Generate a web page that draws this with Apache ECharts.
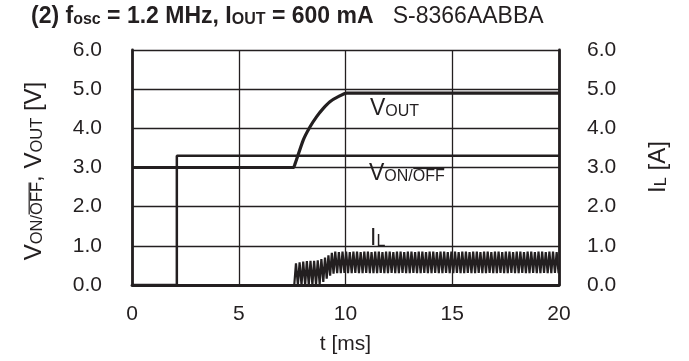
<!DOCTYPE html>
<html><head><meta charset="utf-8">
<script src="https://cdn.jsdelivr.net/npm/echarts@6/dist/echarts.min.js"></script>
<style>html,body{margin:0;padding:0;background:#fff}#c{width:689px;height:361px}</style>
</head><body><div id="c"></div>
<script>
// ---- data ----
const xTickLabels = ['0', '5', '10', '15', '20'];
const yTickLabels = ['0.0', '1.0', '2.0', '3.0', '4.0', '5.0', '6.0'];
const vonTime = [0, 2.1, 2.1, 20];
const vonVolt = [0, 0, 3.3, 3.3];
const voutTime = [0, 7.55, 7.63, 8.02, 8.34, 8.65, 8.96, 9.27, 9.66, 10.06, 20];
const voutVolt = [3.0, 3.0, 3.08, 3.70, 4.04, 4.30, 4.51, 4.68, 4.81, 4.9, 4.9];
const ilWave = [
[7.60,0],[7.68,0.55],[7.77,0],[7.85,0.58],[7.94,0],[8.02,0.60],[8.11,0],[8.19,0.61],[8.28,0],[8.36,0.62],
[8.45,0],[8.53,0.62],[8.62,0],[8.70,0.63],[8.79,0.02],[8.87,0.66],[8.96,0.08],[9.04,0.70],[9.12,0.16],[9.20,0.76],
[9.28,0.24],[9.36,0.82],[9.44,0.29],[9.52,0.85],[9.61,0.30],[9.69,0.84],[9.78,0.30],[9.86,0.85],[9.95,0.31],[10.03,0.85],
[10.12,0.30],[10.20,0.84],[10.29,0.30],[10.37,0.85],[10.46,0.31],[10.54,0.85],[10.63,0.30],[10.71,0.84],[10.80,0.30],[10.88,0.85],
[10.97,0.31],[11.05,0.85],[11.14,0.30],[11.22,0.84],[11.31,0.30],[11.39,0.85],[11.48,0.30],[11.56,0.85],[11.65,0.31],[11.73,0.84],
[11.82,0.30],[11.90,0.85],[11.99,0.30],[12.07,0.85],[12.16,0.31],[12.24,0.84],[12.33,0.30],[12.41,0.85],[12.50,0.30],[12.58,0.85],
[12.67,0.31],[12.75,0.84],[12.84,0.30],[12.92,0.85],[13.01,0.30],[13.09,0.85],[13.18,0.31],[13.26,0.84],[13.35,0.30],[13.43,0.85],
[13.52,0.30],[13.60,0.85],[13.69,0.31],[13.77,0.84],[13.86,0.30],[13.94,0.85],[14.03,0.30],[14.11,0.85],[14.20,0.31],[14.28,0.84],
[14.37,0.30],[14.45,0.85],[14.54,0.30],[14.62,0.85],[14.71,0.31],[14.79,0.84],[14.88,0.30],[14.96,0.85],[15.05,0.30],[15.13,0.85],
[15.22,0.31],[15.30,0.84],[15.39,0.30],[15.47,0.85],[15.56,0.30],[15.64,0.85],[15.73,0.31],[15.81,0.84],[15.90,0.30],[15.98,0.85],
[16.07,0.30],[16.15,0.85],[16.24,0.31],[16.32,0.84],[16.41,0.30],[16.49,0.85],[16.58,0.30],[16.66,0.85],[16.75,0.31],[16.83,0.84],
[16.92,0.30],[17.00,0.85],[17.09,0.30],[17.17,0.85],[17.26,0.31],[17.34,0.84],[17.43,0.30],[17.51,0.85],[17.60,0.30],[17.68,0.85],
[17.77,0.31],[17.85,0.84],[17.94,0.30],[18.02,0.85],[18.11,0.30],[18.19,0.85],[18.28,0.31],[18.36,0.84],[18.45,0.30],[18.53,0.85],
[18.62,0.30],[18.70,0.85],[18.79,0.31],[18.87,0.84],[18.96,0.30],[19.04,0.85],[19.13,0.30],[19.21,0.85],[19.30,0.31],[19.38,0.84],
[19.47,0.30],[19.55,0.85],[19.64,0.30],[19.72,0.85],[19.81,0.31],[19.89,0.84],[19.98,0.30],[20.00,0.40]
];

// ---- drawing ----
const INK = '#231f20';
const FONT = '"Liberation Sans", Arial, Helvetica, sans-serif';
const mctx = document.createElement('canvas').getContext('2d');
function fontStr(size, bold) { return (bold ? 'bold ' : '') + size + 'px ' + FONT; }
function tw(t, size, bold) { mctx.font = fontStr(size, bold); return mctx.measureText(t).width; }
// parts: [text, size, bold, overline]; group origin = baseline point
function richLabel(parts, x, y, align, rotation, bg) {
  let total = 0;
  parts.forEach(p => total += tw(p[0], p[1], p[2]));
  let cx = align === 'center' ? -total / 2 : 0;
  const children = [];
  if (bg) {
    children.push({type: 'rect', shape: {x: cx - bg[0], y: bg[1], width: total + bg[0] + bg[2], height: bg[3]},
      style: {fill: '#fff'}});
  }
  parts.forEach(p => {
    const w = tw(p[0], p[1], p[2]);
    children.push({type: 'text', x: cx, y: -0.3465 * p[1],
      style: {text: p[0], font: fontStr(p[1], p[2]), fill: INK, align: 'left', verticalAlign: 'middle'}});
    if (p[3]) {
      const oy = -0.716 * p[1] - 2;
      children.push({type: 'line', shape: {x1: cx + 0.5, y1: oy, x2: cx + w - 0.5, y2: oy},
        style: {stroke: INK, lineWidth: 1.2}});
    }
    cx += w;
  });
  return {type: 'group', x: x, y: y, rotation: rotation || 0, children: children, z: 100};
}

const chart = echarts.init(document.getElementById('c'), null, {renderer: 'canvas'});
const zipXY = (xs, ys) => xs.map((x, i) => [x, ys[i]]);

const axisText = {color: INK, fontSize: 21, fontFamily: FONT};
const option = {
  animation: false,
  backgroundColor: '#fff',
  grid: {left: 132, right: 130, top: 50, bottom: 76},
  xAxis: {
    type: 'value', min: 0, max: 20, interval: 5,
    axisLine: {show: true, lineStyle: {color: INK, width: 2.8}},
    axisTick: {show: false},
    splitLine: {show: true, lineStyle: {color: INK, width: 1.3}},
    axisLabel: Object.assign({margin: 19, formatter: v => xTickLabels[Math.round(v / 5)]}, axisText),
    name: 't [ms]', nameLocation: 'middle', nameGap: 49,
    nameTextStyle: axisText
  },
  yAxis: [{
    type: 'value', min: 0, max: 6, interval: 1, position: 'left',
    axisLine: {show: true, lineStyle: {color: INK, width: 2.8}},
    axisTick: {show: false},
    splitLine: {show: true, lineStyle: {color: INK, width: 1.3}},
    axisLabel: Object.assign({margin: 30, formatter: v => yTickLabels[Math.round(v)]}, axisText)
  }, {
    type: 'value', min: 0, max: 6, interval: 1, position: 'right',
    axisLine: {show: true, lineStyle: {color: INK, width: 2.8}},
    axisTick: {show: false},
    splitLine: {show: false},
    axisLabel: Object.assign({margin: 28, formatter: v => yTickLabels[Math.round(v)]}, axisText)
  }],
  series: [{
    name: 'IL', type: 'line', yAxisIndex: 1, data: ilWave, showSymbol: false,
    lineStyle: {color: INK, width: 2.2}, z: 3
  }, {
    name: 'VON/OFF', type: 'line', yAxisIndex: 0, data: zipXY(vonTime, vonVolt), showSymbol: false,
    lineStyle: {color: INK, width: 2.5}, z: 4
  }, {
    name: 'VOUT', type: 'line', yAxisIndex: 0, data: zipXY(voutTime, voutVolt), showSymbol: false,
    smooth: 0.2, lineStyle: {color: INK, width: 3.2}, z: 5
  }],
  graphic: [
    // title
    richLabel([['(2) f', 23, true], ['osc', 16, true], [' = 1.2 MHz, I', 23, true], ['OUT', 16, true],
      [' = 600 mA', 23, true], ['   S-8366AABBA', 23, false]], 31, 25, 'left', 0),
    // left axis name
    richLabel([['V', 24, false], ['ON/', 16.5, false], ['OFF', 16.5, false, true], [', V', 24, false],
      ['OUT', 16.5, false], [' [V]', 24, false]], 43, 171, 'center', Math.PI / 2),
    // right axis name
    richLabel([['I', 24, false], ['L', 16.5, false], [' [A]', 24, false]], 667, 167, 'center', Math.PI / 2),
    // in-plot labels
    richLabel([['V', 23, false], ['OUT', 16, false]], 370, 117, 'left', 0),
    richLabel([['V', 23, false], ['ON/', 16, false], ['OFF', 16, false, true]], 369, 182, 'left', 0, [6, -19, 3, 22]),
    richLabel([['I', 23, false], ['L', 16, false]], 370, 247, 'left', 0, [5, -5, 6, 7])
  ]
};
chart.setOption(option);
</script>
</body></html>
